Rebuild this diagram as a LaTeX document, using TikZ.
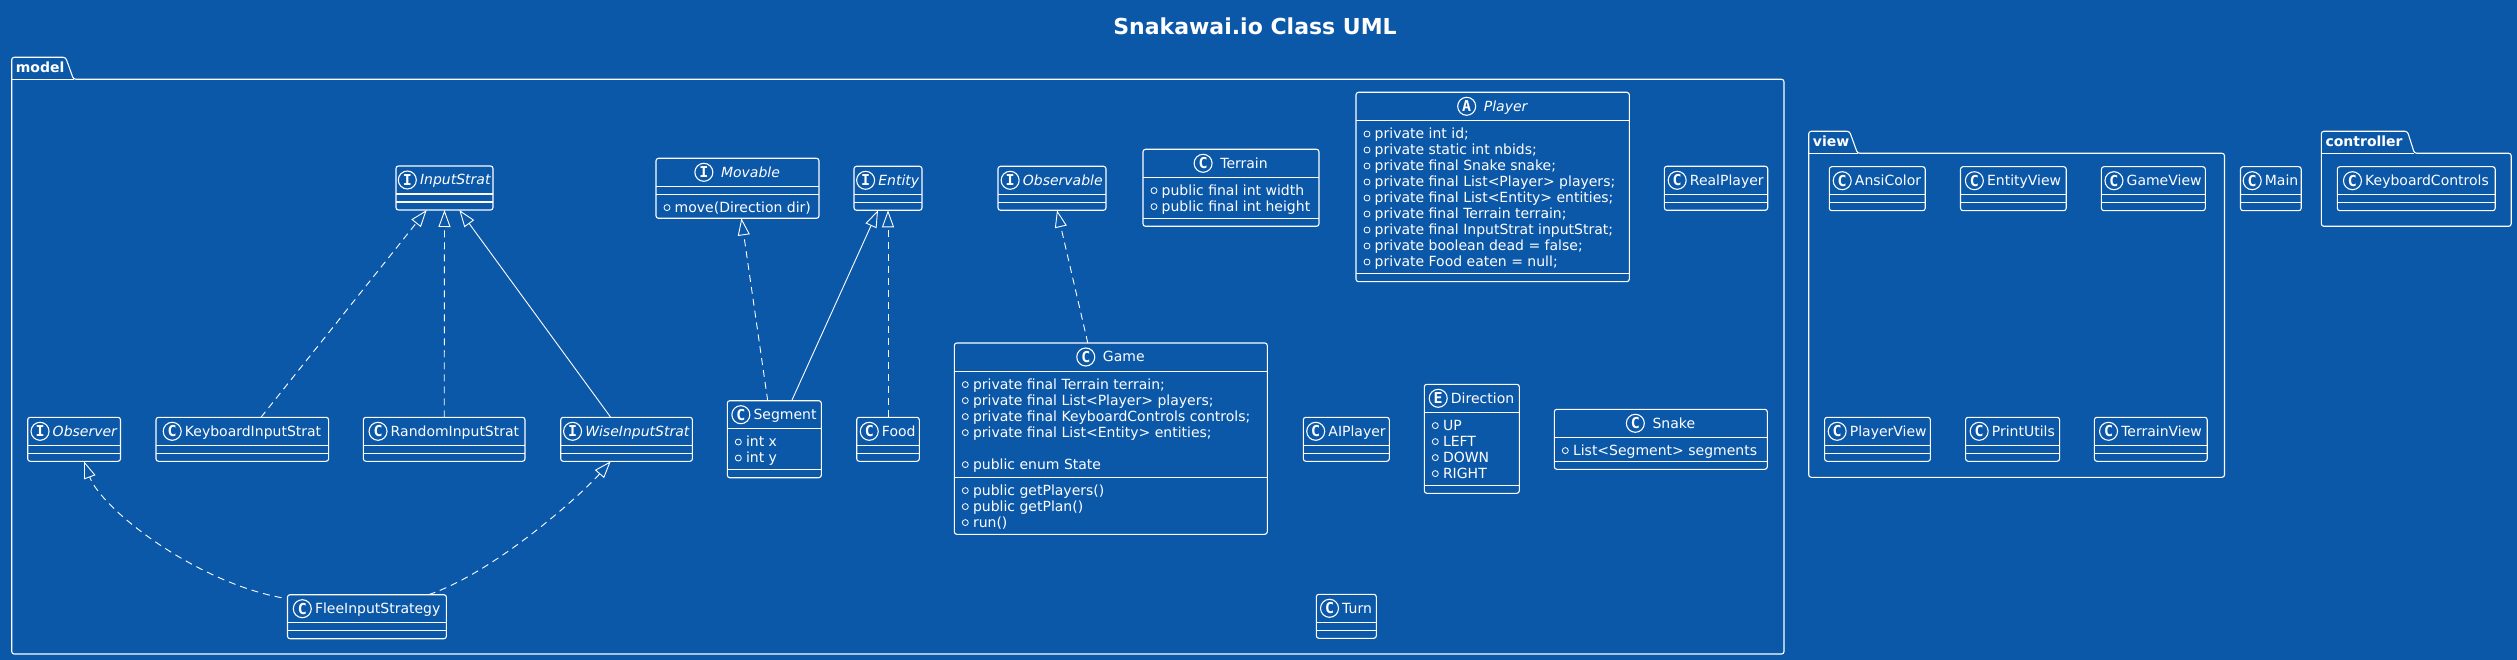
\documentclass[tikz,border=0pt]{standalone}
\usepackage{fontspec}
\setmainfont{DejaVu Sans}
\newfontfamily\iconfont{DejaVu Sans Mono}
\usetikzlibrary{arrows.meta,calc}
\definecolor{bg}{RGB}{12,88,168}
\tikzset{
  clsbox/.style={draw=white, line width=1.1pt, rounded corners=2.5pt, inner sep=0pt, outer sep=0pt},
  clsline/.style={draw=white, line width=1.1pt},
  nametext/.style={text=white, inner sep=0pt, anchor=base, font=\fontsize{14}{16}\selectfont},
  attrtext/.style={text=white, inner sep=0pt, anchor=base west, font=\fontsize{14}{16}\selectfont},
  icon/.style={draw=white, line width=1.1pt},
  icontext/.style={text=white, inner sep=0pt, font=\iconfont\bfseries\fontsize{15}{15}\selectfont},
  markcirc/.style={draw=white, line width=0.8pt},
  pkg/.style={draw=white, line width=1.1pt, rounded corners=2.5pt},
  pkglabel/.style={text=white, inner sep=0pt, anchor=base west, font=\bfseries\fontsize{14}{16}\selectfont},
  sconn/.style={draw=white, line width=0.9pt, -{Triangle[open, length=17pt, width=12pt]}},
  dconn/.style={sconn, dash pattern=on 7pt off 5pt},
}
\newcommand\clsnode[5]{\node[clsbox, minimum width={#4-#2}, minimum height={#5-#3}] (#1) at ({(#2+#4)/2},{(#3+#5)/2}) {};}
\newcommand\clshead[7]{%
  \node[nametext] (#1-t) at ({(#2+#4)/2+(18+#7)/2},{#3+19}) {#6};
  \coordinate (#1-c) at ($(#1-t.base west)+({-(#7)-9},-5)$);
  \draw[icon] (#1-c) circle[radius=9];
  \node[icontext] at (#1-c) {#5};}
\newcommand\sepl[3]{\draw[clsline] (#1,#3) -- (#2,#3);}
\newcommand\attr[3]{%
  \draw[markcirc] ({#1+11},{#2-4.5}) circle[radius=3];
  \node[attrtext] at ({#1+18.5},#2) {#3};}
\newcommand\emptycls[7]{%
  \clsnode{#1}{#2}{#3}{#4}{#3+44}
  \clshead{#1}{#2}{#3}{#4}{#5}{#6}{#7}
  \sepl{#2}{#4}{#3+28}
  \sepl{#2}{#4}{#3+36}}
\begin{document}
\begin{tikzpicture}[x=1pt,y=-1pt]
\fill[bg] (0,0) rectangle (2517,660);
\useasboundingbox (0,0) rectangle (2517,660);

\node[text=white, inner sep=0pt, anchor=base, font=\bfseries\fontsize{22}{26}\selectfont] (title) at (1255,35) {Snakawai.io Class UML};

% packages
\draw[pkg] (11.7,654) -- (11.7,57.3) -- (65.6,57.3) -- (73.5,79.3) -- (1784,79.3) -- (1784,654) -- cycle;
\draw[pkg] (11.7,79.3) -- (73.5,79.3);
\node[pkglabel] (modellbl) at (15.7,72.7) {model};

\draw[pkg] (1808.7,477.3) -- (1808.7,131.3) -- (1849.5,131.3) -- (1857.5,153.3) -- (2224.5,153.3) -- (2224.5,477.3) -- cycle;
\draw[pkg] (1808.7,153.3) -- (1857.5,153.3);
\node[pkglabel] (viewlbl) at (1812.7,146.7) {view};

\draw[pkg] (2321.3,226.3) -- (2321.3,131.3) -- (2407.4,131.3) -- (2414.4,153.3) -- (2511.2,153.3) -- (2511.2,226.3) -- cycle;
\draw[pkg] (2321.3,153.3) -- (2414.4,153.3);
\node[pkglabel] (ctrllbl) at (2325.3,146.7) {controller};

% empty classes
\emptycls{InputStrat}{396}{166}{493}{I}{\itshape InputStrat}{3.5}
\emptycls{Entity}{854}{166.3}{922}{I}{\itshape Entity}{3.5}
\emptycls{Observable}{998}{166.3}{1106}{I}{\itshape Observable}{3.5}
\emptycls{RealPlayer}{1664.3}{166.3}{1767.7}{C}{RealPlayer}{3.5}
\emptycls{Observer}{27.7}{417.3}{120.5}{I}{\itshape Observer}{3.5}
\emptycls{KIS}{156}{417.3}{328.6}{C}{KeyboardInputStrat}{3.5}
\emptycls{RIS}{363.4}{417.3}{525}{C}{RandomInputStrat}{3.5}
\emptycls{WIS}{560.7}{417.3}{692.4}{I}{\itshape WiseInputStrat}{3.5}
\emptycls{Flee}{287.5}{594.7}{446.4}{C}{FleeInputStrategy}{3.5}
\emptycls{Food}{856.7}{417.3}{919.3}{C}{Food}{3.5}
\emptycls{AIPlayer}{1303.3}{417.3}{1389.3}{C}{AIPlayer}{3.5}
\emptycls{Turn}{1316.3}{594.3}{1376.3}{C}{Turn}{3.5}
\emptycls{AnsiColor}{1829.3}{166.7}{1925.2}{C}{AnsiColor}{3.5}
\emptycls{EntityView}{1960.5}{166.7}{2066.2}{C}{EntityView}{3.5}
\emptycls{GameView}{2101.4}{166.7}{2205.3}{C}{GameView}{3.5}
\emptycls{PlayerView}{1824.6}{417.3}{1930.4}{C}{PlayerView}{3.5}
\emptycls{PrintUtils}{1965.6}{417.3}{2059.6}{C}{PrintUtils}{3.5}
\emptycls{TerrainView}{2094.4}{417.3}{2207.2}{C}{TerrainView}{3.5}
\emptycls{Main}{2240.5}{166.7}{2301.2}{C}{Main}{3.5}
\emptycls{KeyboardControls}{2337.3}{166.7}{2495.2}{C}{KeyboardControls}{3.5}

% Movable
\clsnode{Movable}{656}{158.3}{819}{218.3}
\clshead{Movable}{656}{158.3}{819}{I}{\itshape Movable}{8}
\sepl{656}{819}{186.3}
\sepl{656}{819}{194.3}
\attr{656}{212.1}{move(Direction dir)}

% Terrain
\clsnode{Terrain}{1143}{149.3}{1319}{226.3}
\clshead{Terrain}{1143}{149.3}{1319}{C}{Terrain}{8}
\sepl{1143}{1319}{177.3}
\attr{1143}{195.1}{public final int width}
\attr{1143}{211.1}{public final int height}
\sepl{1143}{1319}{218.3}

% Player
\clsnode{Player}{1356}{92.3}{1629.3}{281.7}
\clshead{Player}{1356}{92.3}{1629.3}{A}{\itshape Player}{8}
\sepl{1356}{1629.3}{120.7}
\attr{1356}{138.5}{private int id;}
\attr{1356}{154.5}{private static int nbids;}
\attr{1356}{170.5}{private final Snake snake;}
\attr{1356}{186.5}{private final List<Player> players;}
\attr{1356}{202.5}{private final List<Entity> entities;}
\attr{1356}{218.5}{private final Terrain terrain;}
\attr{1356}{234.5}{private final InputStrat inputStrat;}
\attr{1356}{250.5}{private boolean dead = false;}
\attr{1356}{266.5}{private Food eaten = null;}
\sepl{1356}{1629.3}{273.7}

% Segment
\clsnode{Segment}{727.3}{400.7}{821.3}{477.7}
\clshead{Segment}{727.3}{400.7}{821.3}{C}{Segment}{3.5}
\sepl{727.3}{821.3}{428.7}
\attr{727.3}{446.5}{int x}
\attr{727.3}{462.5}{int y}
\sepl{727.3}{821.3}{469.7}

% Game
\clsnode{Game}{954.3}{343}{1267.3}{534.3}
\clshead{Game}{954.3}{343}{1267.3}{C}{Game}{8}
\sepl{954.3}{1267.3}{371.3}
\attr{954.3}{389.1}{private final Terrain terrain;}
\attr{954.3}{405.1}{private final List<Player> players;}
\attr{954.3}{421.1}{private final KeyboardControls controls;}
\attr{954.3}{437.1}{private final List<Entity> entities;}
\attr{954.3}{469.1}{public enum State}
\sepl{954.3}{1267.3}{477.3}
\attr{954.3}{495.1}{public getPlayers()}
\attr{954.3}{511.1}{public getPlan()}
\attr{954.3}{527.1}{run()}

% Direction
\clsnode{Direction}{1424.3}{384.3}{1519.3}{493.3}
\clshead{Direction}{1424.3}{384.3}{1519.3}{E}{Direction}{3.5}
\sepl{1424.3}{1519.3}{412.3}
\attr{1424.3}{430.1}{UP}
\attr{1424.3}{446.1}{LEFT}
\attr{1424.3}{462.1}{DOWN}
\attr{1424.3}{478.1}{RIGHT}
\sepl{1424.3}{1519.3}{485.3}

% Snake
\clsnode{Snake}{1554.3}{409.3}{1767.3}{469.3}
\clshead{Snake}{1554.3}{409.3}{1767.3}{C}{Snake}{8}
\sepl{1554.3}{1767.3}{437.3}
\attr{1554.3}{455.1}{List<Segment> segments}
\sepl{1554.3}{1767.3}{461.3}

% connectors
\draw[dconn] ($(KIS.north)+(18.7,0)$) -- ($(InputStrat.south)+(-17.8,0)$);
\draw[dconn] (RIS.north) -- (InputStrat.south);
\draw[sconn] ($(WIS.north)+(-15.85,0)$) -- ($(InputStrat.south)+(14.8,0)$);
\draw[dconn] ($(Segment.north)+(-6.6,0)$) -- ($(Movable.south)+(3.9,0)$);
\draw[sconn] ($(Segment.north)+(17.4,0)$) -- ($(Entity.south)+(-10,0)$);
\draw[dconn] (Food.north) -- (Entity.south);
\draw[dconn] ($(Game.north)+(-23,0)$) -- ($(Observable.south)+(5,0)$);
\draw[dconn] ($(Flee.north west)+(-6,3)$) .. controls (193,581) and (101,508) .. ($(Observer.south)+(9.9,0)$);
\draw[dconn] ($(Flee.north east)+(-17.8,0)$) .. controls (495,572) and (581,495) .. ($(WIS.south)+(-15.85,0)$);
\end{tikzpicture}
\end{document}
